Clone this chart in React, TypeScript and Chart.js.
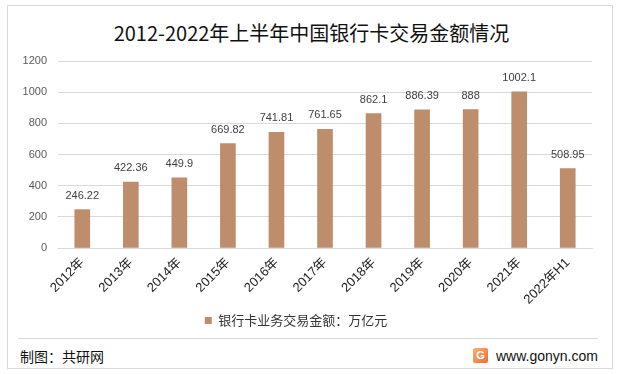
import React, { useEffect, useRef } from "react";
import { Chart, registerables } from "chart.js";

Chart.register(...registerables);

const categories = ["2012年", "2013年", "2014年", "2015年", "2016年", "2017年", "2018年", "2019年", "2020年", "2021年", "2022年H1"];
const values = [246.22, 422.36, 449.9, 669.82, 741.81, 761.65, 862.1, 886.39, 888, 1002.1, 508.95];
const valueLabels = ["246.22", "422.36", "449.9", "669.82", "741.81", "761.65", "862.1", "886.39", "888", "1002.1", "508.95"];
const seriesName = "银行卡业务交易金额：万亿元";
const titleText = "2012-2022年上半年中国银行卡交易金额情况";
const yTicks = [0, 200, 400, 600, 800, 1000, 1200];

const FONT = "'Noto Sans CJK SC', 'Liberation Sans', sans-serif";
const BAR = "#BD8D6C";

const dataLabelPlugin = {
  id: "dataLabels",
  afterDatasetsDraw(chart: any) {
    const ctx = chart.ctx;
    const meta = chart.getDatasetMeta(0);
    ctx.save();
    ctx.font = "11px 'Liberation Sans', sans-serif";
    ctx.fillStyle = "#404040";
    ctx.textAlign = "center";
    ctx.textBaseline = "middle";
    meta.data.forEach((el: any, i: number) => {
      ctx.fillText(valueLabels[i], el.x, el.y - 14);
    });
    ctx.restore();
  },
};

function BarChart() {
  const ref = useRef<HTMLCanvasElement | null>(null);
  useEffect(() => {
    if (!ref.current) return;
    const chart = new Chart(ref.current, {
      type: "bar",
      data: {
        labels: categories,
        datasets: [
          {
            label: seriesName,
            data: values,
            backgroundColor: BAR,
            barThickness: 15,
          },
        ],
      },
      options: {
        animation: false,
        responsive: false,
        maintainAspectRatio: false,
        layout: { padding: { left: 0, top: 61, right: 27, bottom: 3 } },
        plugins: {
          title: { display: false },
          tooltip: { enabled: false },
          legend: {
            display: true,
            position: "bottom",
            labels: {
              boxWidth: 7,
              boxHeight: 7,
              padding: 6,
              color: "#333333",
              font: { family: FONT, size: 13 },
            },
          },
        },
        scales: {
          x: {
            grid: { display: false, drawTicks: false },
            border: { display: true, color: "#d9d9d9" },
            ticks: {
              minRotation: 45,
              maxRotation: 45,
              autoSkip: false,
              color: "#222222",
              padding: 7,
              font: { family: "'Liberation Sans', 'Noto Sans CJK SC', sans-serif", size: 13 },
            },
            afterFit: (scale: any) => {
              scale.height = 60;
            },
          },
          y: {
            min: 0,
            max: 1200,
            afterBuildTicks: (scale: any) => {
              scale.ticks = yTicks.map((v) => ({ value: v }));
            },
            grid: { color: "#d9d9d9", drawTicks: false },
            border: { display: false },
            ticks: {
              color: "#595959",
              padding: 11,
              font: { family: "'Liberation Sans', sans-serif", size: 11 },
              callback: (v: any) => String(v),
            },
            afterFit: (scale: any) => {
              scale.width = 58;
            },
          },
        },
      },
      plugins: [dataLabelPlugin],
    });
    return () => chart.destroy();
  }, []);
  return <canvas ref={ref} width={619} height={340} style={{ position: "absolute", left: 0, top: 0, width: 619, height: 340 }} />;
}

export default function App() {
  return (
    <div style={{ position: "fixed", left: 0, top: 0, width: 619, height: 374, background: "#fff", overflow: "hidden", fontFamily: FONT }}>
      <div style={{ position: "absolute", left: 7, top: 5, width: 604, height: 362, border: "1px solid #d9d9d9" }} />
      <div style={{ position: "absolute", left: 0, width: 623, top: 20, textAlign: "center", fontSize: 20, lineHeight: "26px", color: "#111" }}>{titleText}</div>
      <BarChart />
      <div style={{ position: "absolute", left: 18, top: 338, width: 580, height: 1, background: "#d9d9d9" }} />
      <div style={{ position: "absolute", left: 20, top: 346, fontSize: 14, lineHeight: "20px", color: "#111" }}>制图：共研网</div>
      <div style={{ position: "absolute", left: 473, top: 348, width: 15, height: 15, borderRadius: 2, background: "linear-gradient(135deg, #f7b267, #ee6c3a)", color: "#fff", fontSize: 11, lineHeight: "15px", textAlign: "center", fontFamily: "'Liberation Sans', sans-serif", fontWeight: "bold" }}>G</div>
      <div style={{ position: "absolute", left: 496, top: 346, fontSize: 14, lineHeight: "20px", color: "#111", fontFamily: "'Liberation Sans', sans-serif" }}>www.gonyn.com</div>
    </div>
  );
}
